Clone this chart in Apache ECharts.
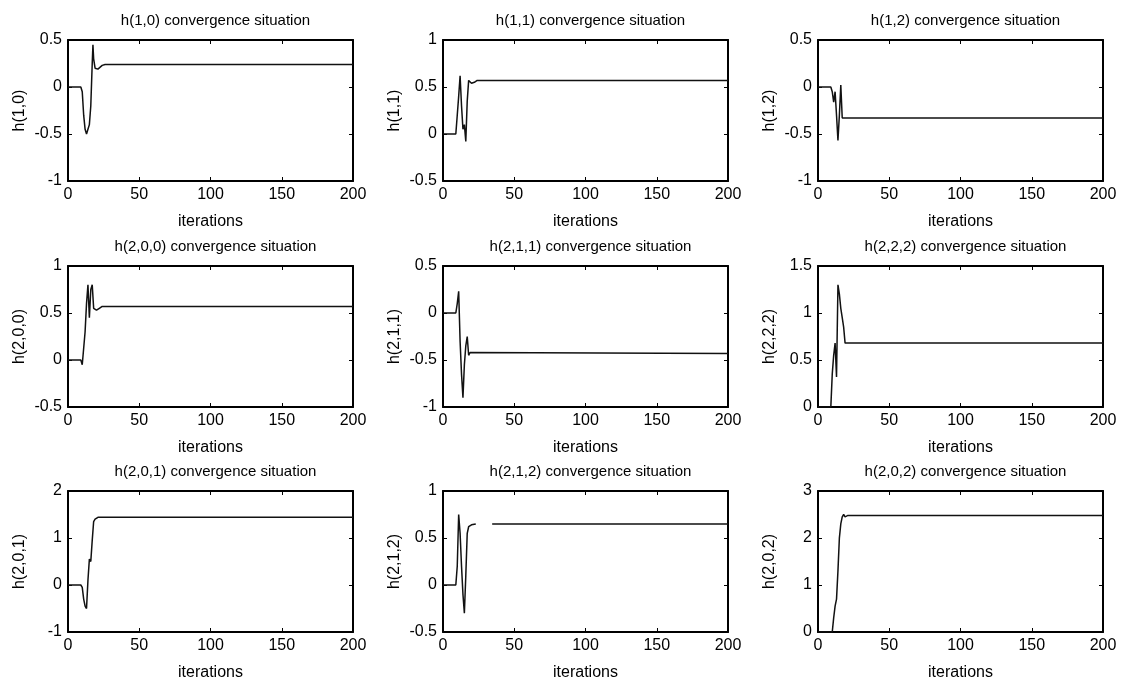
<!DOCTYPE html>
<html>
<head>
<meta charset="utf-8">
<script src="https://cdn.jsdelivr.net/npm/echarts@6/dist/echarts.min.js"></script>
<style>
html,body{margin:0;padding:0;background:#fff;}
#c{width:1123px;height:682px;}
</style>
</head>
<body>
<div id="c"></div>
<script>
// Panel names (row-major order)
const names = ['h(1,0)', 'h(1,1)', 'h(1,2)', 'h(2,0,0)', 'h(2,1,1)', 'h(2,2,2)', 'h(2,0,1)', 'h(2,1,2)', 'h(2,0,2)'];
// Y-axis ranges [min, max, interval]
const yRanges = [[-1, 0.5, 0.5], [-0.5, 1, 0.5], [-1, 0.5, 0.5], [-0.5, 1, 0.5], [-1, 0.5, 0.5], [0, 1.5, 0.5], [-1, 2, 1], [-0.5, 1, 0.5], [0, 3, 1]];
const xRange = [0, 200, 50];

// Series: [iteration, value]
const h10 = [[0,0],[9,0],[10,-0.05],[11,-0.3],[12,-0.45],[13,-0.5],[14,-0.45],[15,-0.4],[16,-0.2],[17,0.25],[17.5,0.45],[18,0.3],[19,0.2],[21,0.19],[22,0.2],[24,0.23],[26,0.24],[200,0.24]];
const h11 = [[0,0],[9,0],[10,0.2],[11,0.4],[12,0.62],[13,0.3],[14,0.05],[15,0.1],[16,-0.08],[17,0.35],[18,0.57],[19,0.56],[20,0.54],[21,0.53],[22,0.55],[24,0.57],[200,0.57]];
const h12 = [[0,0],[9,0],[10,-0.05],[11,-0.16],[12,-0.05],[13,-0.3],[14,-0.57],[15,-0.3],[16,0.02],[17,-0.33],[200,-0.33]];
const h200 = [[0,0],[9,0],[10,-0.05],[11,-0.05],[12,0.3],[13,0.6],[14,0.8],[15,0.45],[16,0.75],[17,0.8],[18,0.55],[20,0.53],[22,0.55],[24,0.57],[200,0.57]];
const h211 = [[0,0],[9,0],[10,0.1],[11,0.23],[12,-0.3],[13,-0.65],[14,-0.9],[15,-0.55],[16,-0.35],[17,-0.25],[18,-0.45],[19,-0.42],[20,-0.43],[200,-0.43]];
const h222 = [[0,0],[9,0],[10,0.35],[11,0.55],[12,0.68],[13,0.32],[14,1.3],[15,1.2],[16,1.05],[17,0.95],[18,0.85],[19,0.68],[20,0.68],[200,0.68]];
const h201 = [[0,0],[9,0],[10,-0.05],[11,-0.3],[12,-0.45],[13,-0.5],[14,0.1],[15,0.55],[16,0.5],[17,0.95],[18,1.35],[19,1.4],[21,1.44],[22,1.44],[200,1.44]];
const h212 = [[0,0],[9,0],[10,0.2],[11,0.75],[12,0.55],[13,0.2],[14,-0.1],[15,-0.3],[16,0.1],[17,0.55],[18,0.62],[20,0.64],[23,0.65],[24,'-'],[34,'-'],[34.5,0.65],[200,0.65]];
const h202 = [[0,0],[10,0],[11,0.3],[12,0.55],[13,0.7],[14,1.3],[15,2.0],[16,2.3],[17,2.45],[18,2.5],[19,2.45],[21,2.48],[200,2.48]];
const allData = [h10, h11, h12, h200, h211, h222, h201, h212, h202];

// Layout
const colLeft = [68, 443, 818];
const rowTop = [40, 266, 491];
const W = 285, H = 141;
const FONT = '"Liberation Sans", Arial, sans-serif';

const grids = [], xAxes = [], yAxes = [], series = [], titles = [];
names.forEach((nm, i) => {
  const r = Math.floor(i / 3), c = i % 3;
  grids.push({left: colLeft[c], top: rowTop[r], width: W, height: H, show: false});
  titles.push({
    text: nm + ' convergence situation',
    left: colLeft[c] + W / 2, top: rowTop[r] - 32, textAlign: 'center',
    textStyle: {fontFamily: FONT, fontSize: 15, fontWeight: 'normal', color: '#000'}
  });
  const axLine = {show: true, onZero: false, lineStyle: {color: '#000', width: 2}};
  const tick = {show: true, inside: true, length: 4, lineStyle: {color: '#000', width: 1}};
  const lbl = {fontFamily: FONT, fontSize: 16, color: '#000'};
  const [ymin, ymax, yint] = yRanges[i];
  xAxes.push({
    type: 'value', gridIndex: i, position: 'bottom', min: xRange[0], max: xRange[1], interval: xRange[2],
    axisLine: axLine, axisTick: tick, splitLine: {show: false},
    axisLabel: Object.assign({margin: 6}, lbl),
    name: 'iterations', nameLocation: 'middle', nameGap: 33,
    nameTextStyle: {fontFamily: FONT, fontSize: 16, color: '#000'}
  });
  xAxes.push({
    type: 'value', gridIndex: i, position: 'top', min: xRange[0], max: xRange[1], interval: xRange[2],
    axisLine: axLine, axisTick: tick, splitLine: {show: false}, axisLabel: {show: false}
  });
  yAxes.push({
    type: 'value', gridIndex: i, position: 'left', min: ymin, max: ymax, interval: yint,
    axisLine: axLine, axisTick: tick, splitLine: {show: false},
    axisLabel: Object.assign({margin: 6}, lbl),
    name: nm, nameLocation: 'middle', nameGap: 40, nameRotate: 90,
    nameTextStyle: {fontFamily: FONT, fontSize: 16, color: '#000'}
  });
  yAxes.push({
    type: 'value', gridIndex: i, position: 'right', min: ymin, max: ymax, interval: yint,
    axisLine: axLine, axisTick: tick, splitLine: {show: false}, axisLabel: {show: false}
  });
  series.push({
    type: 'line', xAxisIndex: 2 * i, yAxisIndex: 2 * i, data: allData[i],
    showSymbol: false, symbol: 'none', connectNulls: false, animation: false,
    lineStyle: {color: '#111', width: 1.5}
  });
});

const chart = echarts.init(document.getElementById('c'), null, {renderer: 'canvas'});
chart.setOption({
  backgroundColor: '#fff',
  animation: false,
  title: titles,
  grid: grids,
  xAxis: xAxes,
  yAxis: yAxes,
  series: series
});
</script>
</body>
</html>
